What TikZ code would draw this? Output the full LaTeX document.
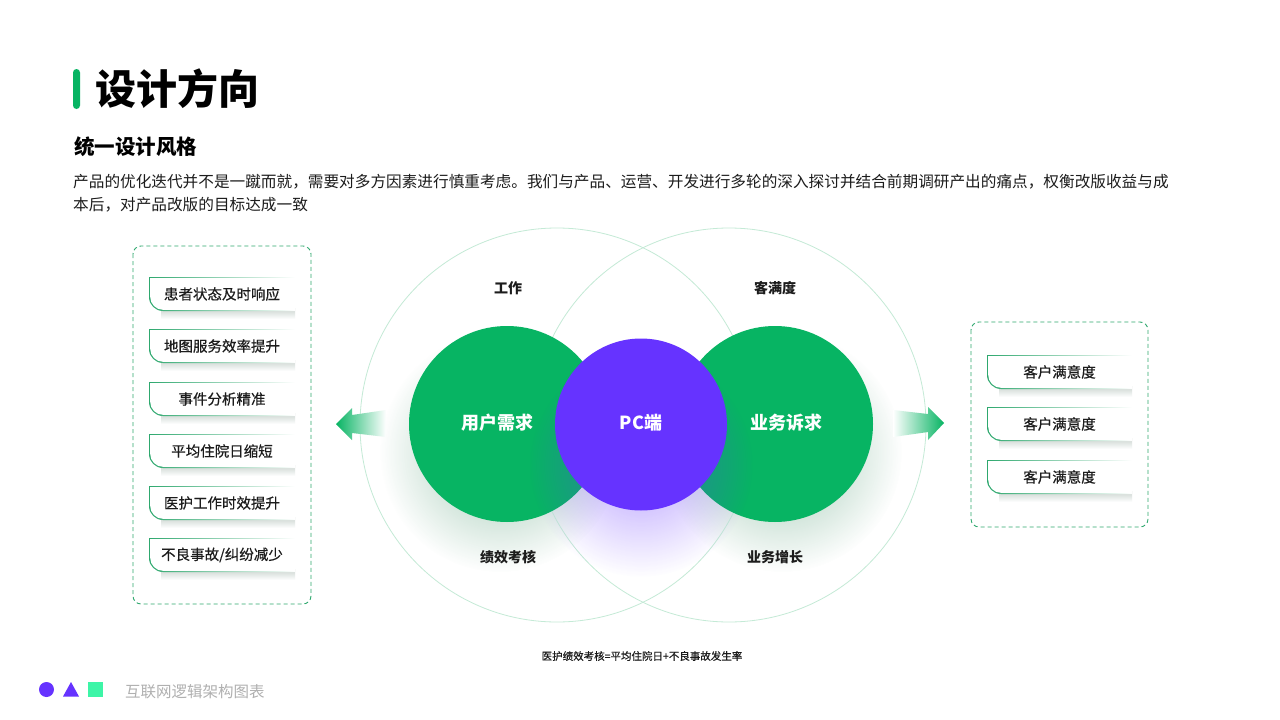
\documentclass[tikz,border=0pt]{standalone}
\usepackage{fontspec}
\setmainfont{Noto Sans CJK SC}
\newfontfamily\medfont{Noto Sans CJK SC}[FakeBold=0.5]
\usetikzlibrary{fadings}
\definecolor{gmain}{HTML}{07B463}
\definecolor{pmain}{HTML}{6633FF}
\definecolor{gline}{HTML}{2EA86E}
\definecolor{gsq}{HTML}{3DF5A7}
\definecolor{faintc}{HTML}{C4EAD6}
\definecolor{txt}{HTML}{1C1C1C}
\definecolor{footgray}{HTML}{B0B0B0}
\definecolor{gshade}{HTML}{4E9A72}
\definecolor{tabsh}{HTML}{C9D3CE}
\tikzfading[name=softglow, inner color=transparent!0, outer color=transparent!100]
\newcommand\fs[1]{\fontsize{#1}{#1}\selectfont}
\newcommand\mytab[5]{%
  \pgfmathsetmacro\tabT{#4-17}\pgfmathsetmacro\tabB{#4+17}%
  \shade[top color=tabsh, bottom color=white] ({#2+12},{\tabB-3}) rectangle ({#3},{\tabB+8});
  \shade[left color=gline, middle color=gline!40!white, right color=white] ({#3},{\tabT}) -- ({#2},{\tabT}) -- ({#2},{\tabB-14}) .. controls ({#2},{\tabB-6.3}) and ({#2+6.3},{\tabB}) .. ({#2+14},{\tabB}) -- ({#3},{\tabB}) -- cycle;
  \fill[white] ({#3},{\tabT+1.2}) -- ({#2+1.2},{\tabT+1.2}) -- ({#2+1.2},{\tabB-14}) .. controls ({#2+1.2},{\tabB-7}) and ({#2+7},{\tabB-1.2}) .. ({#2+14},{\tabB-1.2}) -- ({#3},{\tabB-1.2}) -- cycle;
  \node[tabtext] (#1) at ({(#2+#3)/2},{#4}) {#5};%
}
\tikzset{
  tabtext/.style={inner sep=0pt, text=txt, font=\medfont\fs{14.5}},
  dashbox/.style={draw=gline, dash pattern=on 4pt off 3pt, line width=0.9pt, rounded corners=8pt},
  bigring/.style={draw=faintc, line width=0.8pt},
  lbl/.style={inner sep=0pt, text=txt, font=\fs{14}\bfseries},
  inlbl/.style={inner sep=0pt, text=white, font=\fs{18}\bfseries},
}
\begin{document}
\begin{tikzpicture}[x=1pt,y=-1pt]
\useasboundingbox (0,0) rectangle (1280,720);
\fill[white] (0,0) rectangle (1280,720);

% title
\fill[gmain, rounded corners=3.5pt] (73,69) rectangle (80,109);
\node[anchor=west, inner sep=0pt, text=black, font=\fs{41}\bfseries] (title) at (95,89) {设计方向};
\node[anchor=west, inner sep=0pt, text=black, font=\fs{20.5}\bfseries] (subtitle) at (74,147) {统一设计风格};
\node[anchor=west, inner sep=0pt, text=txt, font=\fs{15.65}] (para1) at (73,182) {产品的优化迭代并不是一蹴而就，需要对多方因素进行慎重考虑。我们与产品、运营、开发进行多轮的深入探讨并结合前期调研产出的痛点，权衡改版收益与成};
\node[anchor=west, inner sep=0pt, text=txt, font=\fs{15.65}] (para2) at (73,205) {本后，对产品改版的目标达成一致};

% shadows
\fill[gshade, path fading=softglow, fill opacity=0.55] (500,452) circle[radius=120];
\fill[gshade, path fading=softglow, fill opacity=0.55] (782,452) circle[radius=120];

% big rings
\draw[bigring] (557,425) circle[radius=197];
\draw[bigring] (729,425) circle[radius=197];

% green circles
\node[circle, fill=gmain, minimum size=196pt, inner sep=0pt] (userc) at (507,424) {};
\node[circle, fill=gmain, minimum size=196pt, inner sep=0pt] (bizc) at (775,424) {};
\fill[pmain, path fading=softglow, fill opacity=0.45] (641,465) circle[radius=112];
\node[circle, fill=pmain, minimum size=172pt, inner sep=0pt] (pcc) at (641,424.5) {};

\node[inlbl] (userl) at (497,423) {用户需求};
\node[inlbl] (pcl) at (641,423) {PC端};
\node[inlbl] (bizl) at (786,423) {业务诉求};

\node[lbl] (l1) at (508,288) {工作};
\node[lbl] (l2) at (775,288) {客满度};
\node[lbl] (l3) at (508,557) {绩效考核};
\node[lbl] (l4) at (775,557) {业务增长};

% arrows
\shade[left color=gmain, right color=white] (336,424) -- (352,408) -- (352,415) -- (386,410) -- (386,437) -- (352,433) -- (352,440) -- cycle;
\shade[left color=white, right color=gmain] (944,423) -- (928,407) -- (928,414) -- (893,410) -- (893,437) -- (928,432) -- (928,440) -- cycle;

% left box
\draw[dashbox] (133,246) rectangle (311,604);
\mytab{t1}{149}{295}{294}{患者状态及时响应}
\mytab{t2}{149}{295}{346}{地图服务效率提升}
\mytab{t3}{149}{295}{399}{事件分析精准}
\mytab{t4}{149}{295}{451}{平均住院日缩短}
\mytab{t5}{149}{295}{503}{医护工作时效提升}
\mytab{t6}{149}{295}{555}{不良事故/纠纷减少}

% right box
\draw[dashbox] (971,322) rectangle (1148,527);
\mytab{r1}{987}{1132}{372}{客户满意度}
\mytab{r2}{987}{1132}{424}{客户满意度}
\mytab{r3}{987}{1132}{477}{客户满意度}

% note
\node[inner sep=0pt, text=txt, font=\medfont\fs{10.5}] (note) at (642,656) {医护绩效考核=平均住院日+不良事故发生率};

% footer
\fill[pmain] (46.5,689.5) circle[radius=7.5];
\fill[pmain] (71,682) -- (79,696.5) -- (63,696.5) -- cycle;
\fill[gsq] (88,682) rectangle (103,697);
\node[anchor=west, inner sep=0pt, text=footgray, font=\fs{15.5}] (foot) at (125,692) {互联网逻辑架构图表};
\end{tikzpicture}
\end{document}
